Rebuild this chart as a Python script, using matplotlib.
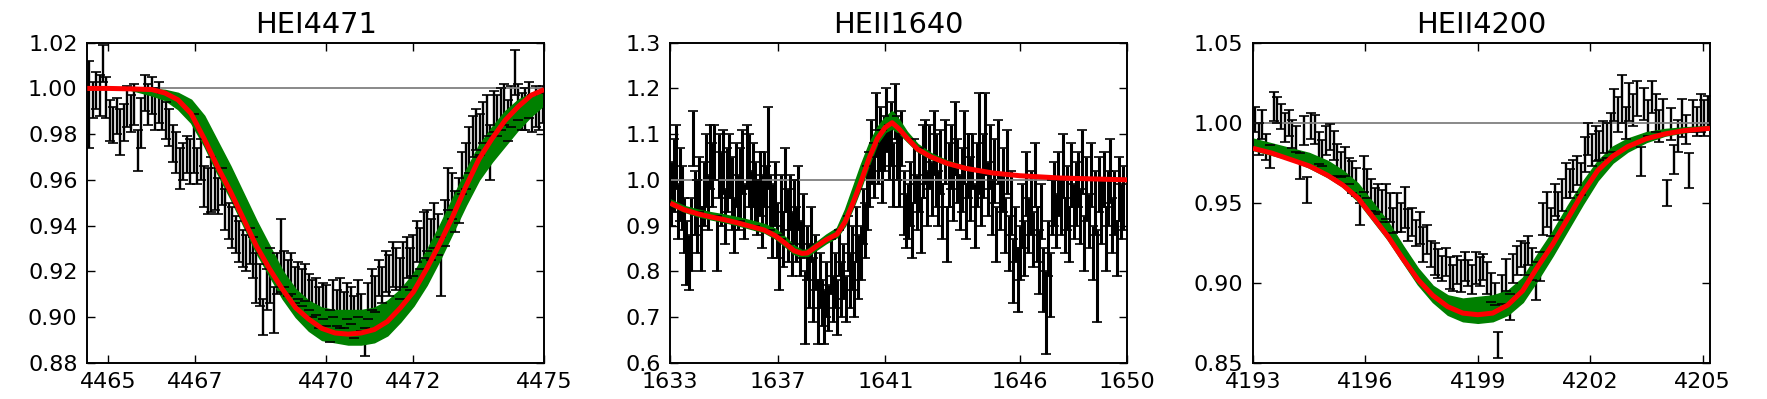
import numpy as np
import matplotlib
matplotlib.use("Agg")
import matplotlib.pyplot as plt

# ---------------- Panel 1: HEI4471 ----------------
he1_wave = [4464.56, 4464.64, 4464.72, 4464.80, 4464.88, 4464.96, 4465.04, 4465.12, 4465.20, 4465.28,
            4465.36, 4465.44, 4465.52, 4465.60, 4465.68, 4465.76, 4465.84, 4465.92, 4466.00, 4466.08,
            4466.16, 4466.24, 4466.32, 4466.40, 4466.48, 4466.56, 4466.64, 4466.72, 4466.80, 4466.88,
            4466.96, 4467.04, 4467.12, 4467.20, 4467.28, 4467.36, 4467.44, 4467.52, 4467.60, 4467.68,
            4467.76, 4467.84, 4467.92, 4468.00, 4468.08, 4468.16, 4468.24, 4468.32, 4468.40, 4468.48,
            4468.56, 4468.64, 4468.72, 4468.80, 4468.88, 4468.96, 4469.04, 4469.12, 4469.20, 4469.28,
            4469.36, 4469.44, 4469.52, 4469.60, 4469.68, 4469.76, 4469.84, 4469.92, 4470.00, 4470.08,
            4470.16, 4470.24, 4470.32, 4470.40, 4470.48, 4470.56, 4470.64, 4470.72, 4470.80, 4470.88,
            4470.96, 4471.04, 4471.12, 4471.20, 4471.28, 4471.36, 4471.44, 4471.52, 4471.60, 4471.68,
            4471.76, 4471.84, 4471.92, 4472.00, 4472.08, 4472.16, 4472.24, 4472.32, 4472.40, 4472.48,
            4472.56, 4472.64, 4472.72, 4472.80, 4472.88, 4472.96, 4473.04, 4473.12, 4473.20, 4473.28,
            4473.36, 4473.44, 4473.52, 4473.60, 4473.68, 4473.76, 4473.84, 4473.92, 4474.00, 4474.08,
            4474.16, 4474.24, 4474.32, 4474.40, 4474.48, 4474.56, 4474.64, 4474.72, 4474.80, 4474.88,
            4474.96]
he1_flux = [0.993, 0.995, 0.999, 0.997, 1.011, 0.996, 0.986, 0.984, 0.988, 0.981,
            0.985, 0.992, 0.989, 0.993, 0.973, 0.985, 0.998, 0.993, 0.997, 0.991,
            0.994, 0.990, 0.986, 0.983, 0.976, 0.972, 0.965, 0.968, 0.971, 0.968,
            0.976, 0.966, 0.969, 0.957, 0.955, 0.958, 0.956, 0.953, 0.957, 0.947,
            0.942, 0.939, 0.936, 0.933, 0.930, 0.928, 0.931, 0.926, 0.917, 0.914,
            0.900, 0.912, 0.918, 0.903, 0.919, 0.927, 0.921, 0.917, 0.919, 0.914,
            0.916, 0.913, 0.915, 0.911, 0.908, 0.909, 0.904, 0.907, 0.905, 0.896,
            0.908, 0.904, 0.906, 0.903, 0.907, 0.905, 0.900, 0.908, 0.902, 0.889,
            0.907, 0.912, 0.910, 0.917, 0.914, 0.920, 0.918, 0.923, 0.921, 0.917,
            0.923, 0.926, 0.921, 0.927, 0.933, 0.930, 0.936, 0.938, 0.934, 0.940,
            0.936, 0.922, 0.941, 0.956, 0.953, 0.946, 0.951, 0.963, 0.966, 0.973,
            0.979, 0.982, 0.980, 0.985, 0.988, 0.972, 0.990, 0.988, 0.991, 0.993,
            0.986, 0.992, 1.007, 0.994, 0.990, 0.991, 0.995, 0.989, 0.992, 0.990,
            0.993]
he1_err = [0.019, 0.008, 0.008, 0.009, 0.008, 0.009, 0.009, 0.008, 0.008, 0.010,
           0.008, 0.009, 0.008, 0.009, 0.009, 0.011, 0.008, 0.009, 0.008, 0.009,
           0.009, 0.008, 0.008, 0.008, 0.008, 0.009, 0.009, 0.008, 0.008, 0.010,
           0.013, 0.008, 0.009, 0.009, 0.010, 0.012, 0.009, 0.008, 0.008, 0.009,
           0.008, 0.009, 0.008, 0.009, 0.008, 0.008, 0.008, 0.009, 0.011, 0.009,
           0.008, 0.009, 0.012, 0.010, 0.009, 0.016, 0.008, 0.008, 0.009, 0.008,
           0.008, 0.008, 0.008, 0.008, 0.008, 0.008, 0.009, 0.008, 0.009, 0.007,
           0.008, 0.008, 0.011, 0.008, 0.008, 0.008, 0.009, 0.008, 0.008, 0.006,
           0.008, 0.009, 0.008, 0.008, 0.008, 0.009, 0.009, 0.010, 0.009, 0.009,
           0.010, 0.009, 0.009, 0.009, 0.009, 0.009, 0.010, 0.009, 0.009, 0.010,
           0.009, 0.013, 0.010, 0.009, 0.010, 0.009, 0.010, 0.009, 0.010, 0.010,
           0.009, 0.009, 0.009, 0.009, 0.009, 0.012, 0.009, 0.009, 0.009, 0.009,
           0.009, 0.009, 0.010, 0.008, 0.008, 0.009, 0.008, 0.008, 0.009, 0.008,
           0.008]
he1_mod_wave = [4464.52, 4465.0, 4465.5, 4466.0, 4466.3, 4466.6, 4466.9, 4467.2, 4467.5, 4467.8,
                4468.1, 4468.4, 4468.7, 4469.0, 4469.3, 4469.6, 4469.9, 4470.2, 4470.5, 4470.8,
                4471.1, 4471.4, 4471.7, 4472.0, 4472.3, 4472.6, 4472.9, 4473.2, 4473.5, 4473.8,
                4474.1, 4474.4, 4474.7, 4475.0]
he1_best = [1.0, 1.0, 0.9998, 0.9995, 0.998, 0.995, 0.989, 0.978, 0.966, 0.955,
            0.943, 0.931, 0.921, 0.912, 0.904, 0.899, 0.895, 0.893, 0.8925, 0.893,
            0.8945, 0.898, 0.904, 0.911, 0.921, 0.932, 0.944, 0.957, 0.969, 0.978,
            0.986, 0.992, 0.997, 0.9995]
he1_band_lo = [0.9995, 1.0, 0.9995, 0.997, 0.995, 0.991, 0.985, 0.975, 0.963, 0.952,
               0.940, 0.928, 0.918, 0.908, 0.900, 0.894, 0.890, 0.889, 0.888, 0.888,
               0.889, 0.892, 0.898, 0.905, 0.914, 0.925, 0.937, 0.949, 0.960, 0.968,
               0.975, 0.982, 0.988, 0.993]
he1_band_hi = [1.0, 1.0, 1.0, 0.9998, 0.9993, 0.998, 0.995, 0.988, 0.977, 0.966,
               0.954, 0.942, 0.931, 0.920, 0.912, 0.907, 0.904, 0.903, 0.903, 0.903,
               0.904, 0.907, 0.912, 0.919, 0.929, 0.940, 0.952, 0.964, 0.975, 0.983,
               0.990, 0.995, 0.998, 1.0]

# ---------------- Panel 2: HEII1640 ----------------
he2_wave = [1633.04, 1633.12, 1633.20, 1633.28, 1633.36, 1633.44, 1633.52, 1633.60, 1633.68, 1633.76,
            1633.84, 1633.92, 1634.00, 1634.08, 1634.16, 1634.24, 1634.32, 1634.40, 1634.48, 1634.56,
            1634.64, 1634.72, 1634.80, 1634.88, 1634.96, 1635.04, 1635.12, 1635.20, 1635.28, 1635.36,
            1635.44, 1635.52, 1635.60, 1635.68, 1635.76, 1635.84, 1635.92, 1636.00, 1636.08, 1636.16,
            1636.24, 1636.32, 1636.40, 1636.48, 1636.56, 1636.64, 1636.72, 1636.80, 1636.88, 1636.96,
            1637.04, 1637.12, 1637.20, 1637.28, 1637.36, 1637.44, 1637.52, 1637.60, 1637.68, 1637.76,
            1637.84, 1637.92, 1638.00, 1638.08, 1638.16, 1638.24, 1638.32, 1638.40, 1638.48, 1638.56,
            1638.64, 1638.72, 1638.80, 1638.88, 1638.96, 1639.04, 1639.12, 1639.20, 1639.28, 1639.36,
            1639.44, 1639.52, 1639.60, 1639.68, 1639.76, 1639.84, 1639.92, 1640.00, 1640.08, 1640.16,
            1640.24, 1640.32, 1640.40, 1640.48, 1640.56, 1640.64, 1640.72, 1640.80, 1640.88, 1640.96,
            1641.04, 1641.12, 1641.20, 1641.28, 1641.36, 1641.44, 1641.52, 1641.60, 1641.68, 1641.76,
            1641.84, 1641.92, 1642.00, 1642.08, 1642.16, 1642.24, 1642.32, 1642.40, 1642.48, 1642.56,
            1642.64, 1642.72, 1642.80, 1642.88, 1642.96, 1643.04, 1643.12, 1643.20, 1643.28, 1643.36,
            1643.44, 1643.52, 1643.60, 1643.68, 1643.76, 1643.84, 1643.92, 1644.00, 1644.08, 1644.16,
            1644.24, 1644.32, 1644.40, 1644.48, 1644.56, 1644.64, 1644.72, 1644.80, 1644.88, 1644.96,
            1645.04, 1645.12, 1645.20, 1645.28, 1645.36, 1645.44, 1645.52, 1645.60, 1645.68, 1645.76,
            1645.84, 1645.92, 1646.00, 1646.08, 1646.16, 1646.24, 1646.32, 1646.40, 1646.48, 1646.56,
            1646.64, 1646.72, 1646.80, 1646.88, 1646.96, 1647.04, 1647.12, 1647.20, 1647.28, 1647.36,
            1647.44, 1647.52, 1647.60, 1647.68, 1647.76, 1647.84, 1647.92, 1648.00, 1648.08, 1648.16,
            1648.24, 1648.32, 1648.40, 1648.48, 1648.56, 1648.64, 1648.72, 1648.80, 1648.88, 1648.96,
            1649.04, 1649.12, 1649.20, 1649.28, 1649.36, 1649.44, 1649.52, 1649.60, 1649.68, 1649.76,
            1649.84]
he2_flux = [0.97, 1.01, 1.05, 0.93, 0.99, 0.96, 0.90, 0.84, 0.82, 0.88,
            1.09, 0.95, 0.92, 0.99, 0.87, 0.97, 1.02, 0.95, 1.05, 1.01,
            1.06, 0.86, 1.03, 0.98, 1.04, 0.92, 1.00, 1.03, 0.97, 0.90,
            1.01, 0.95, 0.99, 1.04, 0.93, 1.05, 1.02, 0.96, 1.01, 0.97,
            0.94, 0.99, 0.93, 1.00, 0.96, 1.07, 0.95, 0.91, 0.97, 0.89,
            0.82, 0.94, 0.87, 1.00, 0.90, 0.95, 0.86, 0.93, 0.88, 0.96,
            0.85, 0.90, 0.72, 0.84, 0.79, 0.88, 0.76, 0.82, 0.71, 0.78,
            0.73, 0.70, 0.76, 0.72, 0.81, 0.74, 0.78, 0.72, 0.84, 0.76,
            0.80, 0.74, 0.86, 0.78, 0.83, 0.76, 0.88, 0.81, 0.84, 0.92,
            0.89, 0.96, 1.00, 1.06, 1.02, 1.12, 1.05, 1.09, 1.03, 1.08,
            1.13, 1.06, 1.10, 1.01, 1.15, 1.07, 1.02, 1.09, 0.95, 0.91,
            0.93, 0.97, 0.89, 1.02, 0.95, 1.00, 0.90, 1.04, 1.06, 0.96,
            1.05, 0.98, 1.08, 1.02, 0.96, 1.04, 0.93, 1.06, 0.88, 1.01,
            1.05, 0.97, 1.09, 1.02, 0.95, 1.00, 1.07, 0.93, 1.03, 0.98,
            1.04, 0.92, 1.01, 1.08, 0.96, 1.03, 1.10, 0.98, 1.05, 0.94,
            1.02, 0.88, 1.06, 0.95, 1.00, 0.90, 1.04, 0.86, 0.95, 0.80,
            0.88, 0.78, 0.84, 0.92, 0.85, 0.99, 0.90, 0.95, 0.87, 1.01,
            0.88, 0.82, 0.93, 0.78, 0.71, 0.85, 0.77, 0.94, 0.97, 0.91,
            0.99, 0.94, 1.03, 0.90, 0.96, 0.88, 1.01, 0.93, 0.97, 1.00,
            0.92, 1.04, 0.86, 0.98, 0.91, 1.01, 0.84, 0.95, 0.79, 0.99,
            0.93, 1.00, 0.87, 0.96, 1.02, 0.90, 0.95, 0.85, 0.98, 0.93,
            0.96]
he2_err = [0.07, 0.08, 0.07, 0.06, 0.08, 0.07, 0.06, 0.07, 0.06, 0.08,
           0.06, 0.07, 0.08, 0.06, 0.07, 0.07, 0.08, 0.06, 0.07, 0.07,
           0.06, 0.06, 0.07, 0.08, 0.07, 0.06, 0.07, 0.07, 0.08, 0.06,
           0.07, 0.06, 0.08, 0.07, 0.06, 0.07, 0.08, 0.06, 0.07, 0.07,
           0.06, 0.07, 0.08, 0.06, 0.07, 0.09, 0.06, 0.08, 0.07, 0.06,
           0.06, 0.07, 0.06, 0.07, 0.08, 0.06, 0.07, 0.07, 0.06, 0.07,
           0.06, 0.07, 0.08, 0.06, 0.07, 0.06, 0.07, 0.06, 0.07, 0.06,
           0.05, 0.06, 0.06, 0.05, 0.06, 0.05, 0.06, 0.06, 0.05, 0.06,
           0.06, 0.05, 0.06, 0.06, 0.07, 0.06, 0.06, 0.07, 0.06, 0.06,
           0.06, 0.07, 0.06, 0.07, 0.06, 0.07, 0.06, 0.07, 0.08, 0.06,
           0.07, 0.06, 0.07, 0.07, 0.06, 0.07, 0.08, 0.06, 0.07, 0.06,
           0.06, 0.07, 0.06, 0.07, 0.06, 0.07, 0.06, 0.08, 0.07, 0.06,
           0.07, 0.06, 0.07, 0.08, 0.06, 0.07, 0.06, 0.07, 0.06, 0.07,
           0.07, 0.06, 0.08, 0.07, 0.06, 0.07, 0.08, 0.06, 0.07, 0.07,
           0.06, 0.07, 0.07, 0.11, 0.06, 0.07, 0.09, 0.06, 0.07, 0.06,
           0.07, 0.06, 0.07, 0.06, 0.07, 0.06, 0.07, 0.06, 0.07, 0.07,
           0.06, 0.07, 0.06, 0.07, 0.06, 0.07, 0.06, 0.07, 0.06, 0.07,
           0.06, 0.07, 0.06, 0.07, 0.09, 0.06, 0.07, 0.06, 0.07, 0.06,
           0.07, 0.06, 0.07, 0.06, 0.07, 0.06, 0.07, 0.06, 0.07, 0.06,
           0.06, 0.07, 0.06, 0.07, 0.06, 0.07, 0.06, 0.07, 0.10, 0.06,
           0.07, 0.06, 0.07, 0.06, 0.07, 0.06, 0.07, 0.06, 0.07, 0.06,
           0.07]
he2_mod_wave = [1633.0, 1633.5, 1634.0, 1634.5, 1635.0, 1635.5, 1636.0, 1636.5, 1636.9, 1637.3,
                1637.6, 1637.9, 1638.1, 1638.4, 1638.8, 1639.2, 1639.5, 1639.8, 1640.1, 1640.4,
                1640.7, 1641.0, 1641.25, 1641.5, 1641.8, 1642.2, 1642.7, 1643.3, 1644.0, 1645.0,
                1646.0, 1647.5, 1650.0]
he2_best = [0.949, 0.935, 0.926, 0.919, 0.913, 0.906, 0.898, 0.890, 0.878, 0.860,
            0.845, 0.839, 0.840, 0.853, 0.869, 0.881, 0.908, 0.950, 0.997, 1.048,
            1.090, 1.115, 1.125, 1.112, 1.092, 1.067, 1.050, 1.036, 1.025, 1.015,
            1.009, 1.004, 1.0]
he2_band_lo = [0.945, 0.931, 0.921, 0.914, 0.908, 0.901, 0.893, 0.885, 0.872, 0.853,
               0.838, 0.832, 0.833, 0.846, 0.862, 0.875, 0.900, 0.940, 0.985, 1.035,
               1.080, 1.105, 1.113, 1.103, 1.085, 1.062, 1.046, 1.033, 1.023, 1.014,
               1.008, 1.004, 1.0]
he2_band_hi = [0.957, 0.943, 0.935, 0.929, 0.924, 0.918, 0.911, 0.903, 0.893, 0.873,
               0.856, 0.846, 0.848, 0.862, 0.880, 0.895, 0.935, 0.985, 1.035, 1.080,
               1.115, 1.138, 1.150, 1.132, 1.105, 1.078, 1.058, 1.042, 1.029, 1.017,
               1.010, 1.005, 1.0]

# ---------------- Panel 3: HEII4200 ----------------
he3_wave = [4193.05, 4193.15, 4193.25, 4193.35, 4193.45, 4193.55, 4193.65, 4193.75, 4193.85, 4193.95,
            4194.05, 4194.15, 4194.25, 4194.35, 4194.45, 4194.55, 4194.65, 4194.75, 4194.85, 4194.95,
            4195.05, 4195.15, 4195.25, 4195.35, 4195.45, 4195.55, 4195.65, 4195.75, 4195.85, 4195.95,
            4196.05, 4196.15, 4196.25, 4196.35, 4196.45, 4196.55, 4196.65, 4196.75, 4196.85, 4196.95,
            4197.05, 4197.15, 4197.25, 4197.35, 4197.45, 4197.55, 4197.65, 4197.75, 4197.85, 4197.95,
            4198.05, 4198.15, 4198.25, 4198.35, 4198.45, 4198.55, 4198.65, 4198.75, 4198.85, 4198.95,
            4199.05, 4199.15, 4199.25, 4199.35, 4199.45, 4199.55, 4199.65, 4199.75, 4199.85, 4199.95,
            4200.05, 4200.15, 4200.25, 4200.35, 4200.45, 4200.55, 4200.65, 4200.75, 4200.85, 4200.95,
            4201.05, 4201.15, 4201.25, 4201.35, 4201.45, 4201.55, 4201.65, 4201.75, 4201.85, 4201.95,
            4202.05, 4202.15, 4202.25, 4202.35, 4202.45, 4202.55, 4202.65, 4202.75, 4202.85, 4202.95,
            4203.05, 4203.15, 4203.25, 4203.35, 4203.45, 4203.55, 4203.65, 4203.75, 4203.85, 4203.95,
            4204.05, 4204.15, 4204.25, 4204.35, 4204.45, 4204.55, 4204.65, 4204.75, 4204.85, 4204.95,
            4205.05, 4205.15]
he3_flux = [1.002, 0.990, 0.999, 0.985, 0.979, 1.010, 1.008, 1.004, 0.997, 1.000,
            0.993, 0.990, 0.973, 0.995, 0.958, 0.998, 0.996, 0.984, 0.981, 0.989,
            0.991, 0.986, 0.977, 0.974, 0.976, 0.970, 0.966, 0.963, 0.943, 0.968,
            0.962, 0.955, 0.951, 0.953, 0.948, 0.951, 0.947, 0.939, 0.944, 0.941,
            0.947, 0.936, 0.938, 0.931, 0.934, 0.924, 0.927, 0.918, 0.915, 0.912,
            0.909, 0.913, 0.906, 0.903, 0.908, 0.904, 0.910, 0.906, 0.902, 0.909,
            0.907, 0.910, 0.903, 0.897, 0.893, 0.861, 0.896, 0.905, 0.885, 0.909,
            0.914, 0.918, 0.915, 0.920, 0.912, 0.901, 0.910, 0.940, 0.946, 0.938,
            0.952, 0.948, 0.955, 0.964, 0.962, 0.967, 0.970, 0.965, 0.980, 0.990,
            0.983, 0.987, 0.986, 0.991, 0.989, 0.994, 1.011, 1.005, 1.015, 1.000,
            1.013, 1.008, 1.015, 0.976, 1.012, 1.003, 1.016, 1.006, 0.998, 1.004,
            0.956, 0.999, 0.977, 0.992, 1.003, 0.996, 0.970, 1.004, 1.001, 1.006,
            1.003, 1.007]
he3_err = [0.008, 0.010, 0.009, 0.008, 0.007, 0.009, 0.008, 0.008, 0.009, 0.008,
           0.009, 0.008, 0.008, 0.009, 0.008, 0.008, 0.009, 0.010, 0.008, 0.009,
           0.008, 0.009, 0.010, 0.008, 0.009, 0.008, 0.010, 0.009, 0.007, 0.011,
           0.009, 0.010, 0.008, 0.009, 0.010, 0.011, 0.009, 0.008, 0.012, 0.009,
           0.013, 0.010, 0.009, 0.008, 0.010, 0.011, 0.009, 0.008, 0.010, 0.009,
           0.008, 0.009, 0.010, 0.008, 0.009, 0.010, 0.009, 0.008, 0.009, 0.010,
           0.009, 0.008, 0.010, 0.009, 0.007, 0.008, 0.009, 0.010, 0.008, 0.009,
           0.009, 0.008, 0.010, 0.009, 0.010, 0.012, 0.009, 0.010, 0.011, 0.009,
           0.010, 0.009, 0.010, 0.011, 0.009, 0.010, 0.009, 0.010, 0.011, 0.010,
           0.010, 0.011, 0.009, 0.010, 0.011, 0.012, 0.010, 0.011, 0.015, 0.010,
           0.012, 0.010, 0.011, 0.009, 0.010, 0.011, 0.010, 0.012, 0.010, 0.011,
           0.008, 0.010, 0.009, 0.010, 0.012, 0.009, 0.011, 0.010, 0.009, 0.012,
           0.011, 0.010]
he3_mod_wave = [4193.0, 4193.5, 4194.0, 4194.5, 4195.0, 4195.4, 4195.8, 4196.2, 4196.6, 4197.0,
                4197.4, 4197.8, 4198.2, 4198.6, 4199.0, 4199.4, 4199.8, 4200.2, 4200.6, 4201.0,
                4201.4, 4201.8, 4202.2, 4202.6, 4203.0, 4203.5, 4204.0, 4204.5, 4205.2]
he3_best = [0.984, 0.981, 0.977, 0.973, 0.967, 0.961, 0.953, 0.941, 0.929, 0.915,
            0.902, 0.892, 0.885, 0.881, 0.880, 0.881, 0.886, 0.895, 0.910, 0.924,
            0.940, 0.956, 0.970, 0.979, 0.985, 0.990, 0.993, 0.995, 0.9965]
he3_band_lo = [0.983, 0.980, 0.977, 0.972, 0.966, 0.960, 0.951, 0.939, 0.927, 0.913,
               0.899, 0.888, 0.880, 0.876, 0.875, 0.876, 0.880, 0.888, 0.902, 0.917,
               0.933, 0.949, 0.964, 0.975, 0.982, 0.988, 0.992, 0.994, 0.996]
he3_band_hi = [0.990, 0.987, 0.984, 0.981, 0.976, 0.970, 0.962, 0.950, 0.938, 0.923,
               0.909, 0.898, 0.892, 0.890, 0.891, 0.892, 0.895, 0.903, 0.918, 0.932,
               0.948, 0.963, 0.976, 0.985, 0.990, 0.994, 0.996, 0.997, 0.998]

titles = ["HEI4471", "HEII1640", "HEII4200"]
xlims = [(4464.52, 4475.0), (1633.0, 1650.0), (4193.0, 4205.2)]
ylims = [(0.88, 1.02), (0.6, 1.3), (0.85, 1.05)]
xticks = [[4465, 4467, 4470, 4472, 4475], [1633, 1637, 1641, 1646, 1650], [4193, 4196, 4199, 4202, 4205]]
yticks = [[0.88, 0.90, 0.92, 0.94, 0.96, 0.98, 1.00, 1.02],
          [0.6, 0.7, 0.8, 0.9, 1.0, 1.1, 1.2, 1.3],
          [0.85, 0.90, 0.95, 1.00, 1.05]]
yfmt = ["%.2f", "%.1f", "%.2f"]
bar_lw = [1.7, 2.2, 1.7]

panels = [
    (he1_wave, he1_flux, he1_err, he1_mod_wave, he1_best, he1_band_lo, he1_band_hi),
    (he2_wave, he2_flux, he2_err, he2_mod_wave, he2_best, he2_band_lo, he2_band_hi),
    (he3_wave, he3_flux, he3_err, he3_mod_wave, he3_best, he3_band_lo, he3_band_hi),
]

W, H = 1767, 399
fig = plt.figure(figsize=(W / 100, H / 100), dpi=100)
lefts_px = [87.3, 670.3, 1253.0]
ax_w_px, ax_h_px = 457.0, 320.0
bottom_px = 36.3

for k, (wv, fl, er, mw, best, blo, bhi) in enumerate(panels):
    ax = fig.add_axes([lefts_px[k] / W, bottom_px / H, ax_w_px / W, ax_h_px / H])
    cont = ax.errorbar(wv, fl, yerr=er, fmt='none', ecolor='black', elinewidth=bar_lw[k],
                       capsize=3.6, capthick=1.2)
    for c in cont[2]:
        c.set_zorder(1.5)
    for c in cont[1]:
        c.set_zorder(2.6)
    ax.axhline(1.0, color='#808080', lw=1.3, zorder=1.8)
    ax.fill_between(mw, blo, bhi, color='green', lw=1.2, edgecolor='green', zorder=2.0)
    ax.plot(mw, best, color='red', lw=3.6, zorder=3, solid_capstyle='butt')
    ax.set_xlim(*xlims[k])
    ax.set_ylim(*ylims[k])
    ax.set_xticks(xticks[k])
    ax.set_xticklabels([str(t) for t in xticks[k]])
    ax.set_yticks(yticks[k])
    ax.set_yticklabels([yfmt[k] % t for t in yticks[k]])
    ax.tick_params(direction='in', top=True, right=True, length=5.5, width=1.0,
                   labelsize=16, pad=7)
    for s in ax.spines.values():
        s.set_linewidth(1.4)
    ax.set_title(titles[k], fontsize=20.7, pad=6.8)

fig.savefig("out.png", dpi=100)
